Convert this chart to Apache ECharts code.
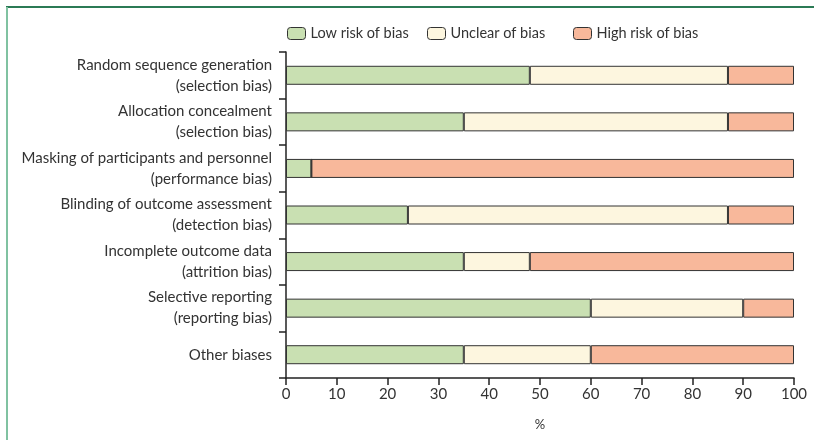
<!DOCTYPE html>
<html>
<head>
<meta charset="utf-8">
<script src="https://cdn.jsdelivr.net/npm/echarts@6/dist/echarts.min.js"></script>
<style>
html,body{margin:0;padding:0;background:#fff;}
#frame{position:absolute;left:0;top:0;width:814px;height:440px;}
#topline{position:absolute;left:6px;top:6px;width:808px;height:2px;background:#2b7a55;}
#leftline{position:absolute;left:6px;top:7px;width:2px;height:433px;background:#80c2a1;}
#chart{position:absolute;left:0;top:0;width:814px;height:440px;}
</style>
</head>
<body>
<div id="frame"><div id="chart"></div><div id="topline"></div><div id="leftline"></div></div>
<script>
const categories = [
  "Random sequence generation\n(selection bias)",
  "Allocation concealment\n(selection bias)",
  "Masking of participants and personnel\n(performance bias)",
  "Blinding of outcome assessment\n(detection bias)",
  "Incomplete outcome data\n(attrition bias)",
  "Selective reporting\n(reporting bias)",
  "Other biases"
];
const seriesNames = ['Low risk of bias', 'Unclear of bias', 'High risk of bias'];
const lowRisk = [48, 35, 5, 24, 35, 60, 35];
const unclearRisk = [39, 52, 0, 63, 13, 30, 25];
const highRisk = [13, 13, 95, 13, 52, 10, 40];
const xTicks = [0, 10, 20, 30, 40, 50, 60, 70, 80, 90, 100];

const font = "Lato";
const chart = echarts.init(document.getElementById('chart'));
const mk = (name, data, color) => ({
  name, type: 'bar', stack: 'total', data, barWidth: 19,
  itemStyle: {color, borderColor: '#333', borderWidth: 1},
  emphasis: {disabled: true}
});
const legendAt = (name, left) => ({
  left, top: 21, itemWidth: 18, itemHeight: 12,
  textStyle: {fontFamily: font, fontSize: 14.5, color: '#333'},
  data: [{name, itemStyle: {borderColor: '#333', borderWidth: 1}}]
});
chart.setOption({
  animation: false,
  textStyle: {fontFamily: font},
  legend: [legendAt(seriesNames[0], 282), legendAt(seriesNames[1], 422), legendAt(seriesNames[2], 568)],
  grid: {left: 286, right: 20, top: 52, bottom: 62, containLabel: false},
  xAxis: {
    type: 'value', min: xTicks[0], max: xTicks[xTicks.length - 1], interval: 10,
    name: '%', nameLocation: 'middle', nameGap: 40,
    nameTextStyle: {fontFamily: font, fontSize: 13, color: '#333'},
    axisLine: {show: true, lineStyle: {color: '#222', width: 1.5}},
    axisTick: {show: true, length: 7, lineStyle: {color: '#222', width: 1.5}},
    axisLabel: {fontFamily: font, fontSize: 15, color: '#333', margin: 9},
    splitLine: {show: false}
  },
  yAxis: {
    type: 'category', data: categories, inverse: true,
    axisLine: {show: true, lineStyle: {color: '#222', width: 1.5}},
    axisTick: {show: true, length: 7, lineStyle: {color: '#222', width: 1.5}},
    axisLabel: {fontFamily: font, fontSize: 15, color: '#333', margin: 14, lineHeight: 21, align: 'right'}
  },
  series: [
    mk(seriesNames[0], lowRisk, '#c9e0b2'),
    mk(seriesNames[1], unclearRisk, '#fdf6df'),
    mk(seriesNames[2], highRisk, '#f8b89b')
  ]
});
</script>
</body>
</html>
